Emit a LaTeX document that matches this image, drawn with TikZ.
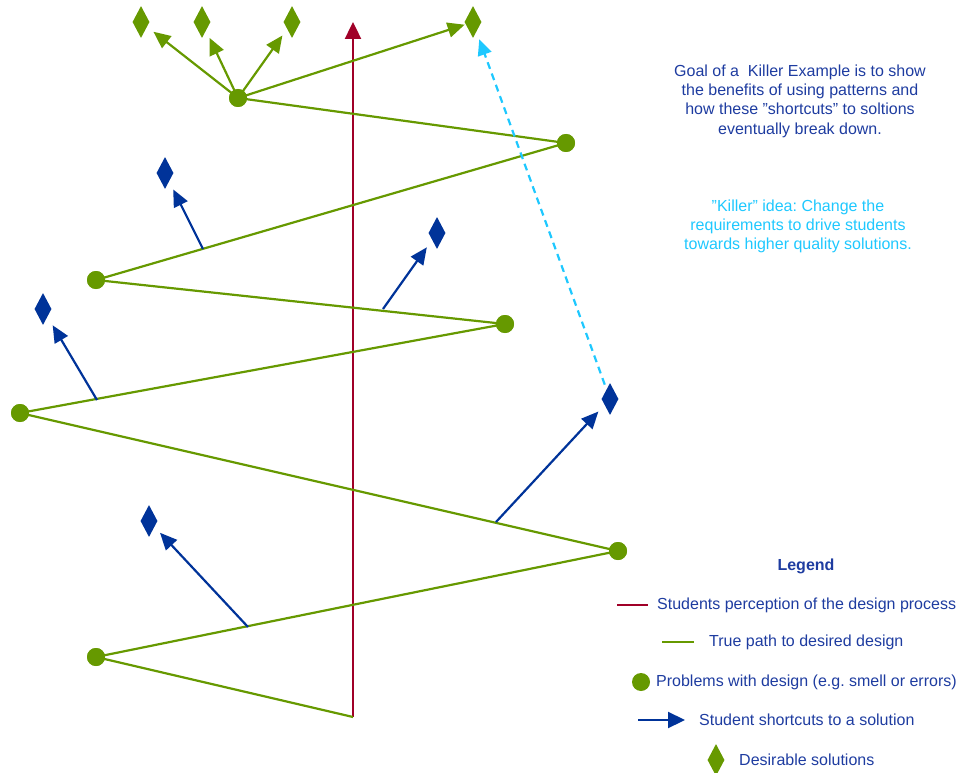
\documentclass[tikz,border=0pt]{standalone}
\usepackage{fontspec}
\setmainfont{Liberation Sans}
\frenchspacing
\usetikzlibrary{arrows.meta,shapes.geometric}
\definecolor{pathgreen}{RGB}{102,153,0}
\definecolor{percred}{RGB}{160,0,40}
\definecolor{shortblue}{RGB}{0,51,153}
\definecolor{textblue}{RGB}{30,60,160}
\definecolor{killcyan}{RGB}{30,200,255}
\tikzset{
  truepath/.style={draw=pathgreen, line width=2.2pt},
  problem/.style={circle, fill=pathgreen, inner sep=0pt, minimum size=18pt},
  gsol/.style={diamond, fill=pathgreen, inner sep=0pt, minimum width=17pt, minimum height=32pt},
  bsol/.style={diamond, fill=shortblue, inner sep=0pt, minimum width=17pt, minimum height=32pt},
  garrow/.style={draw=pathgreen, line width=2.2pt, -{Triangle[length=17pt,width=15pt]}},
  barrow/.style={draw=shortblue, line width=2.2pt, -{Triangle[length=17pt,width=15pt]}},
  carrow/.style={draw=killcyan, line width=2.2pt, dash pattern=on 7pt off 5pt, -{Triangle[length=16pt,width=14pt]}},
  perc/.style={draw=percred, line width=2.4pt, -{Triangle[length=17pt,width=16pt]}},
  txt/.style={font=\fontsize{16}{19.3}\selectfont, text=textblue, inner sep=0pt},
}
\begin{document}
\begin{tikzpicture}[x=1pt,y=-1pt]
\useasboundingbox (0,0) rectangle (967,773);
% path points
\coordinate (p0) at (353,717);
\node[problem] (p1) at (96,657) {};
\node[problem] (p2) at (618,551) {};
\node[problem] (p3) at (20,413) {};
\node[problem] (p4) at (505,324) {};
\node[problem] (p5) at (96,280) {};
\node[problem] (p6) at (566,143) {};
\node[problem] (p7) at (238,98) {};
\coordinate (ptop) at (353,22);
% perception
\draw[perc] (p0) -- (ptop);
% true path
\draw[truepath, line join=round] (p0) -- (p1.center) -- (p2.center) -- (p3.center) -- (p4.center) -- (p5.center) -- (p6.center) -- (p7.center);
% redraw dots on top
\foreach \n in {p1,p2,p3,p4,p5,p6,p7} \node[problem] at (\n) {};
% green solutions
\node[gsol] (g1) at (141,22) {};
\node[gsol] (g2) at (202,22) {};
\node[gsol] (g3) at (292,22) {};
\node[gsol] (g4) at (473,22) {};
\draw[garrow, shorten >=8pt] (p7.center) -- (g1);
\draw[garrow, shorten >=8pt] (p7.center) -- (g2);
\draw[garrow, shorten >=8pt] (p7.center) -- (g3);
\draw[garrow, shorten >=1pt] (p7.center) -- (g4);
% blue solutions
\node[bsol] (b1) at (165,173) {};
\node[bsol] (b2) at (437,233) {};
\node[bsol] (b3) at (43,309) {};
\node[bsol] (b4) at (610,399) {};
\node[bsol] (b5) at (149,521) {};
\coordinate (s1) at (203,249);
\coordinate (s2) at (383,309);
\coordinate (s3) at (97,400);
\coordinate (s4) at (496,522);
\coordinate (s5) at (248,627);
\draw[barrow, shorten >=9pt] (s1) -- (b1);
\draw[barrow, shorten >=9pt] (s2) -- (b2);
\draw[barrow, shorten >=10pt] (s3) -- (b3);
\draw[barrow, shorten >=9pt] (s4) -- (b4);
\draw[barrow, shorten >=8pt] (s5) -- (b5);
% killer idea
\draw[carrow, shorten <=5pt, shorten >=8pt] (b4) -- (g4);
% texts
\node[txt, align=center] (goal) at (800,101) {Goal of a\ \ Killer Example is to show\\the benefits of using patterns and\\how these ”shortcuts” to soltions\\eventually break down.};
\node[txt, align=center, text=killcyan] (killer) at (798,226.5) {”Killer” idea: Change the\\requirements to drive students\\towards higher quality solutions.};
% legend
\node[txt, font=\fontsize{16}{19.3}\selectfont\bfseries] (legend) at (806,566) {Legend};
\coordinate (l1a) at (617,605); \coordinate (l1b) at (648,605);
\draw[draw=percred, line width=2.2pt] (l1a) -- (l1b);
\node[txt, anchor=west] (t1) at (657,605) {Students perception of the design process};
\coordinate (l2a) at (662,642); \coordinate (l2b) at (694,642);
\draw[truepath] (l2a) -- (l2b);
\node[txt, anchor=west] (t2) at (709,642) {True path to desired design};
\node[problem] (l3) at (641,682) {};
\node[txt, anchor=west] (t3) at (656,682) {Problems with design (e.g. smell or errors)};
\coordinate (l4a) at (638,720); \coordinate (l4b) at (685,720);
\draw[draw=shortblue, line width=2.2pt, -{Triangle[length=17pt,width=16pt]}] (l4a) -- (l4b);
\node[txt, anchor=west] (t4) at (699,720) {Student shortcuts to a solution};
\node[gsol] (l5) at (716,760) {};
\node[txt, anchor=west] (t5) at (739,760) {Desirable solutions};
\end{tikzpicture}
\end{document}
